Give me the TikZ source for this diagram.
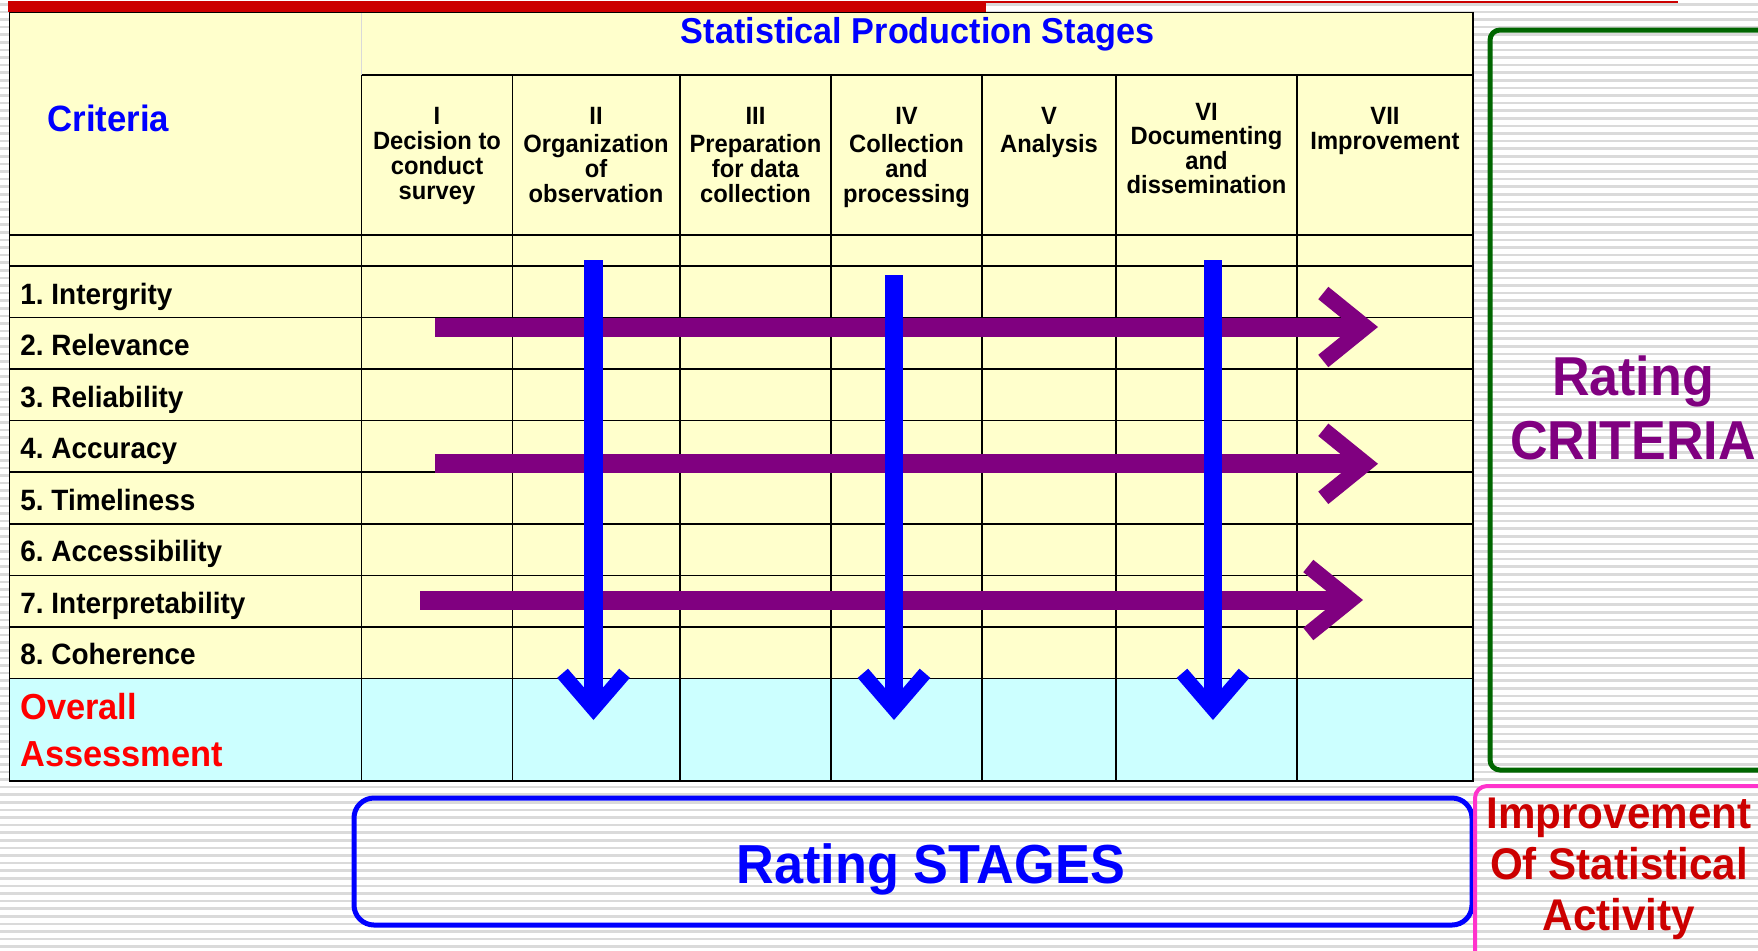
\documentclass[tikz,border=0pt]{standalone}
\usepackage{fontspec}
\setmainfont{Liberation Sans}[FakeStretch=0.95]
\usetikzlibrary{arrows.meta,positioning}
\frenchspacing

\definecolor{tabyellow}{HTML}{FFFFCC}
\definecolor{tabcyan}{HTML}{CCFFFF}
\definecolor{stageblue}{HTML}{0000FF}
\definecolor{critpurple}{HTML}{800080}
\definecolor{barred}{HTML}{CC0000}
\definecolor{overallred}{HTML}{FF0000}
\definecolor{boxgreen}{HTML}{006600}
\definecolor{boxpink}{HTML}{FF33CC}
\definecolor{stripegray}{HTML}{DADADA}

\begin{document}
\begin{tikzpicture}[%
    x=0.5pt, y=-0.5pt,
    >={Straight Barb},
    tabline/.style={draw=black, line width=0.8pt},
    crit/.style={anchor=base west, inner sep=0pt, font=\fontsize{14.7}{16}\selectfont\bfseries},
    stage/.style={anchor=north, inner sep=0pt, align=center, font=\fontsize{12.5}{12.5}\selectfont\bfseries},
    downarrow/.style={draw=stageblue, line width=9.25pt, -{Straight Barb[length=18pt,width=31pt,line width=7pt]}},
    rightarrow/.style={draw=critpurple, line width=9.5pt, -{Straight Barb[length=21pt,width=34pt,line width=8pt]}},
  ]
  \useasboundingbox (0,0) rectangle (1758,950);
  \clip (0,0) rectangle (1758,950);

  % striped background
  \fill[white] (0,0) rectangle (1758,950);
  \foreach \k in {0,...,124}
    \fill[stripegray] (0,{3+7.6*\k}) rectangle (1758,{5.5+7.6*\k});

  % red bar on top
  \fill[barred] (8,0.5) rectangle (986,12.3);
  \draw[barred, line width=1pt] (986,2) -- (1678,2);

  % table
  \fill[tabyellow] (9.6,12.3) rectangle (1473,678.3);
  \fill[tabcyan] (9.6,678.3) rectangle (1473,781);
  \draw[black!15] (361.5,12.3) -- (361.5,75);
  \draw[tabline] (361.5,75) -- (1473,75);
  \foreach \y in {235,266}
    \draw[tabline] (9.6,\y) -- (1473,\y);
  \foreach \k in {1,...,8}
    \draw[tabline] (9.6,{266+51.55*\k}) -- (1473,{266+51.55*\k});
  \foreach \x in {361.5,512.6,680,831,982,1116,1297}
    \draw[tabline] (\x,75) -- (\x,781);
  \draw[tabline] (9.6,12.3) rectangle (1473,781);

  % headings
  \node[anchor=base, inner sep=0pt, text=stageblue, font=\fontsize{18}{18}\selectfont\bfseries]
    (title) at (917.5,43.3) {Statistical Production Stages};
  \node[anchor=base west, inner sep=0pt, text=stageblue, font=\fontsize{18.3}{18.3}\selectfont\bfseries]
    (criteria) at (47,131.7) {Criteria};

  \node[stage] (s1) at (437,106.7) {I\\Decision to\\conduct\\survey};
  \node[stage] (s2) at (596,106.7) {II\\[1.5pt]Organization\\of\\observation};
  \node[stage] (s3) at (755.5,106.7) {III\\[1.5pt]Preparation\\for data\\collection};
  \node[stage] (s4) at (906.5,106.7) {IV\\[1.5pt]Collection\\and\\processing};
  \node[stage] (s5) at (1049,106.7) {V\\[1.5pt]Analysis};
  \node[stage, font=\fontsize{12.5}{11.7}\selectfont\bfseries] (s6) at (1206.5,103.3) {VI\\Documenting\\and\\dissemination};
  \node[stage] (s7) at (1385,106.7) {VII\\Improvement};

  % criteria rows
  \node[crit] (c1) at (20,304) {1. Intergrity};
  \node[crit] (c2) at (20,355.6) {2. Relevance};
  \node[crit] (c3) at (20,407.1) {3. Reliability};
  \node[crit] (c4) at (20,458.7) {4. Accuracy};
  \node[crit] (c5) at (20,510.2) {5. Timeliness};
  \node[crit] (c6) at (20,561.8) {6. Accessibility};
  \node[crit] (c7) at (20,613.3) {7. Interpretability};
  \node[crit] (c8) at (20,664.9) {8. Coherence};
  \node[anchor=north west, inner sep=0pt, align=left, text=overallred,
    font=\fontsize{18.1}{23.5}\selectfont\bfseries] (overall) at (20,693.3) {Overall\\Assessment};

  % rating arrows
  \coordinate (r1s) at (435,327);
  \coordinate (r1e) at (1378,327);
  \coordinate (r2s) at (435,463.8);
  \coordinate (r2e) at (1378,463.8);
  \coordinate (r3s) at (420,600);
  \coordinate (r3e) at (1363,600);
  \draw[rightarrow] (r1s) -- (r1e);
  \draw[rightarrow] (r2s) -- (r2e);
  \draw[rightarrow] (r3s) -- (r3e);

  \coordinate (d2s) at (593.5,260);
  \coordinate (d2e) at (593.5,720);
  \coordinate (d4s) at (894,275.3);
  \coordinate (d4e) at (894,720);
  \coordinate (d6s) at (1213,260);
  \coordinate (d6e) at (1213,720);
  \draw[downarrow] (d2s) -- (d2e);
  \draw[downarrow] (d4s) -- (d4e);
  \draw[downarrow] (d6s) -- (d6e);

  % side boxes
  \draw[boxgreen, line width=2.5pt, rounded corners=5pt] (1490,30) rectangle (1800,770);
  \node[anchor=north, inner sep=0pt, align=center, text=critpurple,
    font=\fontsize{27.4}{32}\selectfont\bfseries] (ratecrit) at (1633,355) {Rating\\CRITERIA};

  \draw[stageblue, line width=2.5pt, rounded corners=10pt] (354,798) rectangle (1472,925);
  \node[anchor=base, inner sep=0pt, text=stageblue, font=\fontsize{27.5}{27.5}\selectfont\bfseries]
    (ratestage) at (930.8,883.3) {Rating STAGES};

  \draw[boxpink, line width=2pt, rounded corners=6pt] (1475,786) rectangle (1800,990);
  \node[anchor=north, inner sep=0pt, align=center, text=barred,
    font=\fontsize{22.2}{25.5}\selectfont\bfseries] (improve) at (1619,798) {Improvement\\Of Statistical\\Activity};
\end{tikzpicture}
\end{document}
